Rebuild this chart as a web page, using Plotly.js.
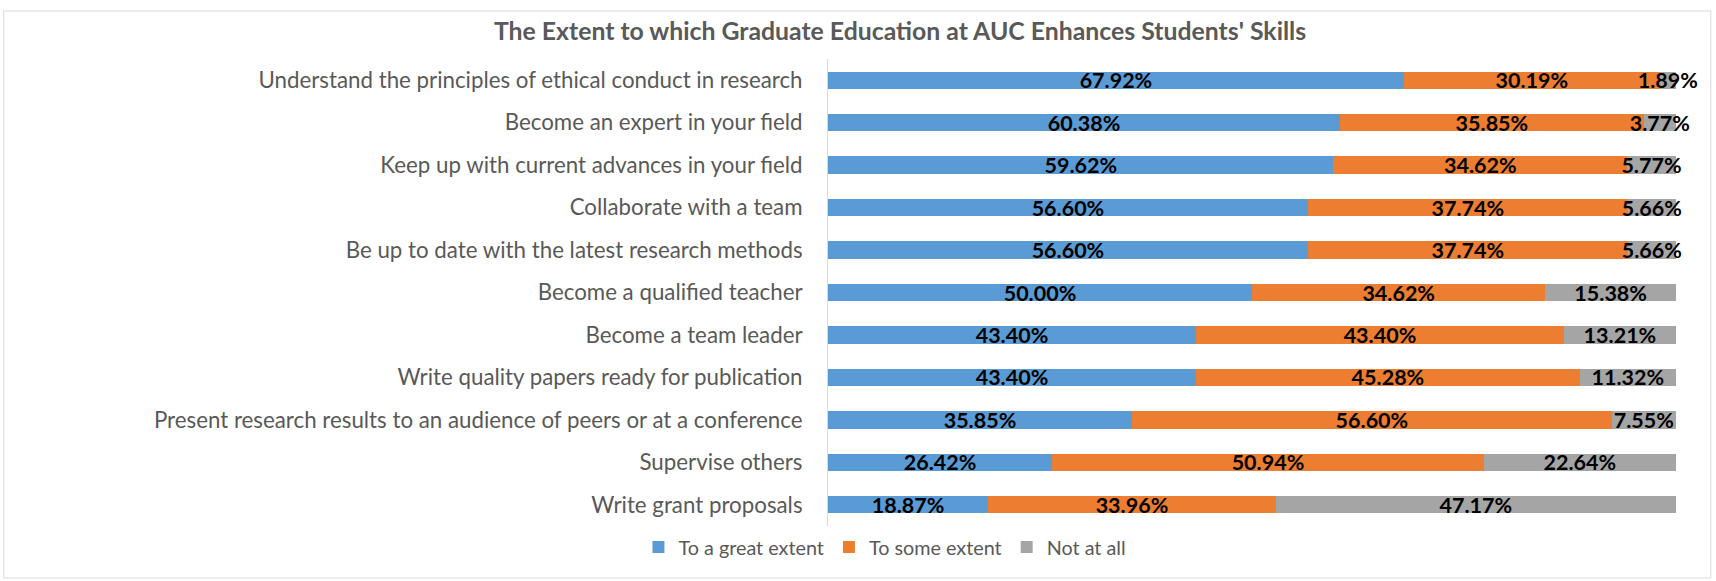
<!DOCTYPE html>
<html>
<head>
<meta charset="utf-8">
<script src="https://cdn.plot.ly/plotly-3.0.1.min.js"></script>
<style>html,body{margin:0;padding:0;background:#fff;}#chart{width:1716px;height:581px;}</style>
</head>
<body>
<div id="chart"></div>
<script>
const categories = [
  "Understand the principles of ethical conduct in research",
  "Become an expert in your field",
  "Keep up with current advances in your field",
  "Collaborate with a team",
  "Be up to date with the latest research methods",
  "Become a qualified teacher",
  "Become a team leader",
  "Write quality papers ready for publication",
  "Present research results to an audience of peers or at a conference",
  "Supervise others",
  "Write grant proposals"
];
const greatExtent = [67.92, 60.38, 59.62, 56.60, 56.60, 50.00, 43.40, 43.40, 35.85, 26.42, 18.87];
const someExtent  = [30.19, 35.85, 34.62, 37.74, 37.74, 34.62, 43.40, 45.28, 56.60, 50.94, 33.96];
const notAtAll    = [1.89, 3.77, 5.77, 5.66, 5.66, 15.38, 13.21, 11.32, 7.55, 22.64, 47.17];
const seriesNames = ["To a great extent", "To some extent", "Not at all"];
const seriesColors = ["#5B9BD5", "#ED7D31", "#A5A5A5"];

const FONT = "Lato, 'Open Sans', sans-serif";
const seriesValues = [greatExtent, someExtent, notAtAll];
const traces = seriesValues.map((vals, i) => ({
  type: "bar",
  orientation: "h",
  name: seriesNames[i],
  x: vals,
  y: categories,
  marker: {color: seriesColors[i]},
  text: vals.map(v => v.toFixed(2) + "%"),
  textposition: "inside",
  insidetextanchor: "middle",
  textangle: 0,
  constraintext: "none",
  cliponaxis: false,
  textfont: {family: FONT, size: 21.5, color: "#000000", weight: "bold"},
  hoverinfo: "none"
}));

const layout = {
  width: 1716,
  height: 581,
  margin: {l: 828, r: 40, t: 59, b: 55},
  paper_bgcolor: "#ffffff",
  plot_bgcolor: "#ffffff",
  barmode: "stack",
  bargap: 0.59,
  uniformtext: {mode: "show", minsize: 21.5},
  font: {family: FONT, color: "#595959"},
  title: {
    text: "<b>The Extent to which Graduate Education at AUC Enhances Students' Skills</b>",
    font: {family: FONT, size: 24.8, color: "#595959"},
    xref: "container", x: 0.5245, xanchor: "center",
    yref: "container", y: 0.9466, yanchor: "middle"
  },
  xaxis: {
    range: [0, 100.02],
    visible: false,
    showgrid: false,
    zeroline: false,
    fixedrange: true
  },
  yaxis: {
    type: "category",
    autorange: "reversed",
    showline: true,
    linecolor: "#D9D9D9",
    linewidth: 1,
    showgrid: false,
    zeroline: false,
    ticks: "",
    ticklabelstandoff: 20,
    tickfont: {family: FONT, size: 22.3, color: "#595959"},
    fixedrange: true
  },
  legend: {
    orientation: "h",
    xref: "container", x: 0.5157, xanchor: "center",
    yref: "container", y: 0.0585, yanchor: "middle",
    font: {family: FONT, size: 19.8, color: "#595959"},
    traceorder: "normal",
    itemwidth: 30
  },
  shapes: [{
    type: "rect", xref: "paper", yref: "paper",
    x0: -0.972, x1: 1.041, y0: -0.1113, y1: 1.1028,
    line: {color: "#D9D9D9", width: 1}, fillcolor: "rgba(0,0,0,0)", layer: "below"
  }],
  showlegend: true
};

Plotly.newPlot("chart", traces, layout, {staticPlot: true, displayModeBar: false});
</script>
</body>
</html>
